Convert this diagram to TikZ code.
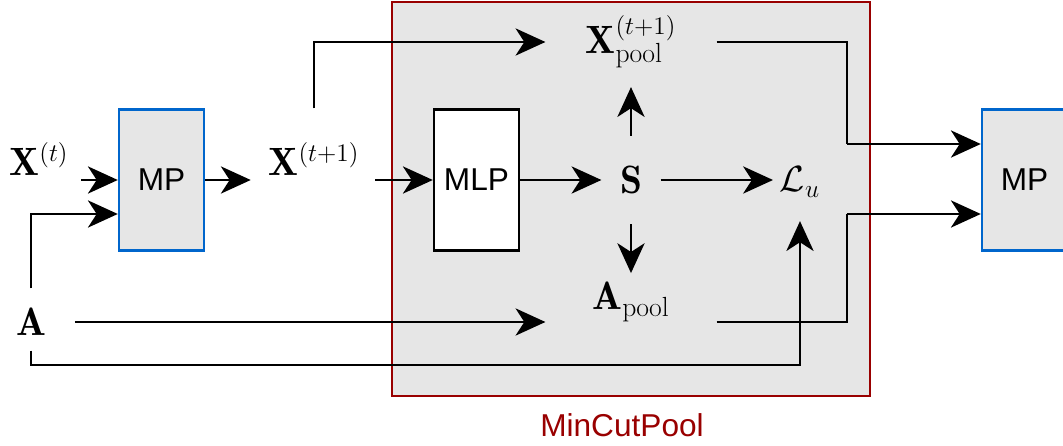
\documentclass[tikz,border=0pt]{standalone}
\usepackage{fontspec}
\setsansfont{Liberation Sans}
\usetikzlibrary{arrows.meta}
\definecolor{boxgray}{HTML}{E6E6E6}
\definecolor{poolred}{HTML}{990000}
\definecolor{mpblue}{HTML}{0066CC}

\begin{document}
\begin{tikzpicture}[x=0.02cm,y=-0.02cm,line width=1.25pt,
  arr/.style={-{Stealth[length=17pt,width=15.5pt,inset=5pt]}},
  lbl/.style={font=\fontsize{22.5}{26}\selectfont},
  blk/.style={draw,line width=1.4pt,minimum width=1.7cm,minimum height=2.82cm,font=\sffamily\fontsize{18}{20}\selectfont},
  mpbox/.style={blk,draw=mpblue,fill=boxgray},
  mlpbox/.style={blk,fill=white}]
\useasboundingbox (0,0) rectangle (1063,446);
\draw[draw=poolred,fill=boxgray,line width=1.5pt] (392,2) rectangle (870,396);
\node[text=poolred,font=\sffamily\fontsize{18}{20}\selectfont] (pooltxt) at (622,425) {MinCutPool};

\node[mpbox] (mp1) at (161.5,180) {MP};
\node[mlpbox] (mlp) at (476.5,180) {MLP};
\node[mpbox] (mp2) at (1024.5,180) {MP};

\node[lbl] (xt) at (39,159) {$\mathbf{X}^{(t)}$};
\node[lbl] (xt1) at (314,159) {$\mathbf{X}^{(t+1)}$};
\node[lbl] (A) at (31,322) {$\mathbf{A}$};
\node[lbl,minimum width=1.14cm,minimum height=1.72cm] (S) at (631,180) {$\mathbf{S}$};
\node[lbl,minimum width=3.38cm,minimum height=1.76cm] (Xpool) at (631,42) {$\mathbf{X}^{(t+1)}_{\mathrm{pool}}$};
\node[lbl,minimum width=3.38cm,inner ysep=0pt] (Apool) at (631,302) {$\mathbf{A}_{\mathrm{pool}}$};
\node[lbl] (L) at (800,182) {$\mathcal{L}_u$};

\draw[arr,shorten <=0.12cm] (xt.east |- mp1.west) -- (mp1.west);
\draw[arr,shorten <=0.26cm] (A.north) |- ([yshift=-0.68cm]mp1.west);
\draw[arr,shorten >=0.22cm] (mp1.east) -- (xt1.west |- mp1.east);
\draw[arr,shorten <=0.18cm] (xt1.east |- mlp.west) -- (mlp.west);
\draw[arr,shorten <=0.55cm] (xt1.north) |- (Xpool.west);
\draw[arr] (mlp.east) -- (S.west);
\draw[arr] (S.north) -- (Xpool.south);
\draw[arr,shorten >=0.16cm] (S.south) -- (Apool.north);
\draw[arr] (S.east) -- (S.east -| L.west);
\draw[arr,shorten <=0.44cm] (A.east) -- (Apool.west |- A.east);
\draw (Xpool.east) -| ([xshift=-2.68cm,yshift=0.72cm]mp2.west);
\draw[arr] ([xshift=-2.68cm,yshift=0.72cm]mp2.west) -- ([yshift=0.72cm]mp2.west);
\draw (Apool.east |- A.east) -| ([xshift=-2.68cm,yshift=-0.68cm]mp2.west);
\draw[arr] ([xshift=-2.68cm,yshift=-0.68cm]mp2.west) -- ([yshift=-0.68cm]mp2.west);
\draw[arr,shorten <=0.16cm,shorten >=0.34cm] (A.south) -- ([yshift=-0.44cm]A.south) -| (L.south);
\end{tikzpicture}
\end{document}
